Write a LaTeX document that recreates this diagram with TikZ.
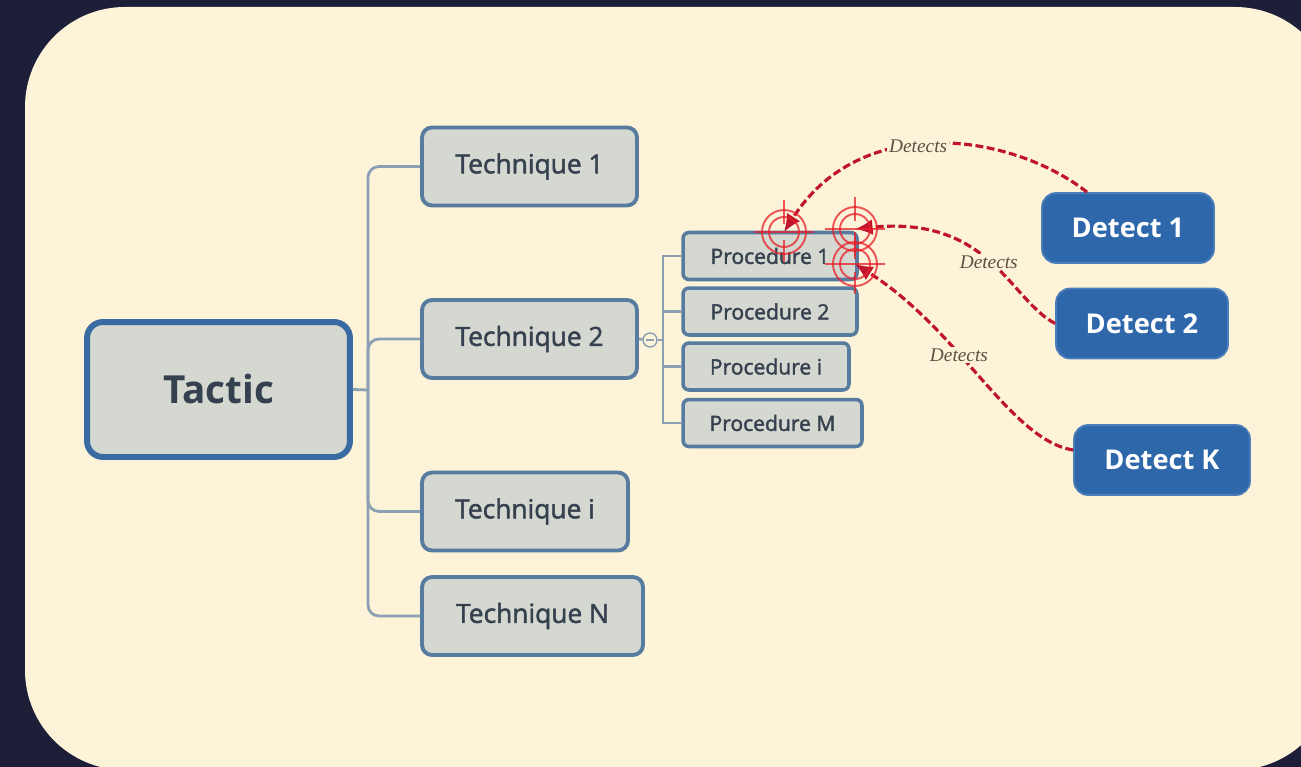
\documentclass[tikz,border=0pt]{standalone}
\usepackage{fontspec}
\setmainfont{Open Sans}
\newfontfamily\semifont{Open Sans}[FakeBold=1.8]
\newfontfamily\labelfont{Liberation Serif}
\usetikzlibrary{arrows.meta}

\definecolor{navy}{HTML}{1D1F38}
\definecolor{cream}{HTML}{FDF3D9}
\definecolor{boxgray}{HTML}{D4D8D0}
\definecolor{tacticblue}{HTML}{3A6AA2}
\definecolor{techblue}{HTML}{587C9F}
\definecolor{darktext}{HTML}{36414F}
\definecolor{branchgray}{HTML}{8CA0B4}
\definecolor{detectblue}{HTML}{2F67AB}
\definecolor{detectedge}{HTML}{4A7DBA}
\definecolor{detred}{HTML}{C0142C}
\definecolor{targetred}{HTML}{E8202A}
\definecolor{labelbrown}{HTML}{5A5244}

\begin{document}
\begin{tikzpicture}[x=0.02cm, y=-0.02cm,
    tacticbox/.style={draw=tacticblue, line width=3.4pt, fill=boxgray, rounded corners=0.32cm,
        minimum width=5.26cm, minimum height=2.7cm, text=darktext, font=\bfseries\fontsize{22}{26}\selectfont},
    techbox/.style={draw=techblue, line width=2.2pt, fill=boxgray, rounded corners=0.2cm,
        minimum height=1.56cm, text=darktext, font=\semifont\fontsize{15}{18}\selectfont},
    procbox/.style={draw=techblue, line width=2pt, fill=boxgray, rounded corners=0.12cm,
        minimum height=0.94cm, text=darktext, font=\semifont\fontsize{12}{14}\selectfont},
    detectbox/.style={draw=detectedge, line width=1pt, fill=detectblue, rounded corners=0.28cm,
        minimum width=3.44cm, minimum height=1.4cm, text=white, font=\bfseries\fontsize{15.5}{18}\selectfont},
    branch/.style={draw=branchgray, line width=1.6pt},
    detects/.style={draw=detred, line width=1.8pt, dash pattern=on 4.5pt off 2pt,
        -{Latex[length=10pt,width=9pt]}},
    detlabel/.style={fill=cream, inner sep=1pt, text=labelbrown, font=\labelfont\itshape\fontsize{11}{13}\selectfont},
    target/.style={draw=targetred, line width=1.1pt, opacity=0.75}]

    \useasboundingbox (0,0) rectangle (1301,767);
    \fill[navy] (0,0) rectangle (1301,767);
    \fill[cream, rounded corners=2cm] (25,7) rectangle (1335,770);

    \node[tacticbox] (tactic) at (218.5,389.5) {Tactic};
    \node[techbox, minimum width=4.3cm] (tech1) at (529.5,166.5) {Technique 1};
    \node[techbox, minimum width=4.3cm] (tech2) at (529.5,339) {Technique 2};
    \node[techbox, minimum width=4.12cm] (techi) at (525,511.5) {Technique i};
    \node[techbox, minimum width=4.42cm] (techN) at (532.5,616) {Technique N};

    \node[procbox, minimum width=3.48cm] (proc1) at (770,256) {Procedure 1};
    \node[procbox, minimum width=3.48cm] (proc2) at (770,311.5) {Procedure 2};
    \node[procbox, minimum width=3.32cm] (proci) at (766,366.5) {Procedure i};
    \node[procbox, minimum width=3.58cm] (procM) at (772.5,423) {Procedure M};

    \node[detectbox] (det1) at (1128,228) {Detect 1};
    \node[detectbox] (det2) at (1142,323.5) {Detect 2};
    \node[detectbox, minimum width=3.52cm] (detK) at (1162,460) {Detect K};

    % tactic -> techniques
    \coordinate (tbus) at (368,390);
    \draw[branch] (tactic.east) -- (tbus);
    \draw[branch, rounded corners=0.22cm] (tech1.west) -| (tbus);
    \draw[branch, rounded corners=0.22cm] (tech2.west) -| (tbus);
    \draw[branch, rounded corners=0.22cm] (techi.west) -| (tbus);
    \draw[branch, rounded corners=0.22cm] (techN.west) -| (tbus);

    % technique 2 -> procedures
    \node[circle, draw=branchgray, line width=0.8pt, fill=cream, minimum size=0.28cm, inner sep=0pt] (fold) at (650,340) {};
    \draw[branchgray, line width=0.8pt] ([xshift=-0.08cm]fold.center) -- ([xshift=0.08cm]fold.center);
    \coordinate (pbus) at (663,340);
    \draw[branch] (tech2.east) -- (fold);
    \draw[branch] (fold) -- (pbus);
    \draw[branch] (proc1.west) -| (pbus);
    \draw[branch] (proc2.west) -| (pbus);
    \draw[branch] (proci.west) -| (pbus);
    \draw[branch] (procM.west) -| (pbus);

    % detections
    \coordinate (hit1) at (784,232);
    \coordinate (hit2) at (855,229);
    \coordinate (hit3) at (855,264);

    \draw[detects] ([xshift=-0.82cm]det1.north) .. controls (1010,132) and (860,112) .. (hit1)
        node[detlabel, pos=0.55] (lab1) {Detects};
    \draw[detects] (det2.west) .. controls (1010,300) and (990,215) .. (hit2)
        node[detlabel, pos=0.5] (lab2) {Detects};
    \draw[detects] ([yshift=0.2cm]detK.west) .. controls (1010,440) and (960,330) .. (hit3)
        node[detlabel, pos=0.6] (lab3) {Detects};

    \foreach \c in {hit1,hit2,hit3} {
        \draw[target] (\c) circle[radius=0.3cm];
        \draw[target] (\c) circle[radius=0.44cm];
        \draw[target] ([shift={(0,-32)}]\c) -- ([shift={(0,-8)}]\c);
        \draw[target] ([shift={(0,8)}]\c) -- ([shift={(0,30)}]\c);
        \draw[target] ([shift={(-30,0)}]\c) -- ([shift={(30,0)}]\c);
    }
\end{tikzpicture}
\end{document}
